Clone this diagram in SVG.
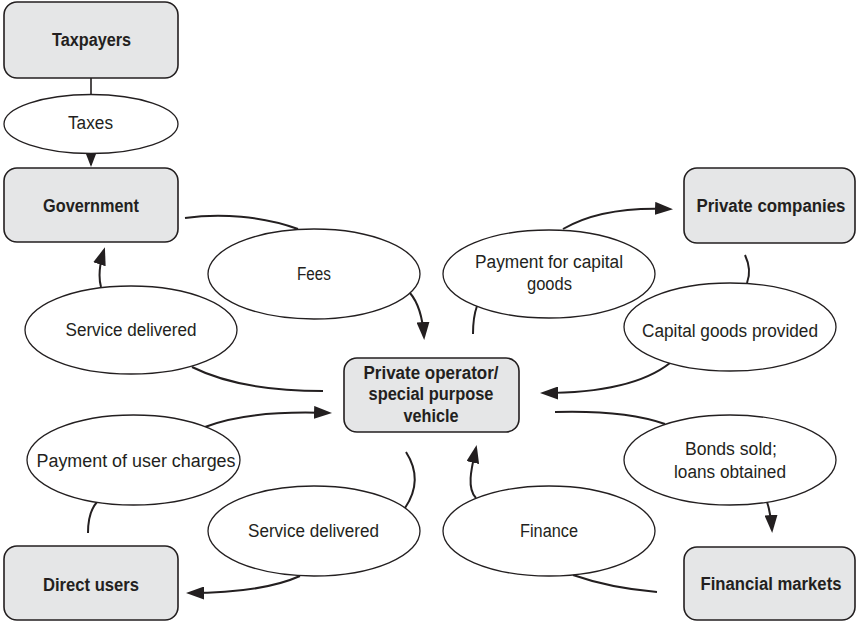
<svg xmlns="http://www.w3.org/2000/svg" width="857" height="622" viewBox="0 0 857 622">
  <style>
    .box { fill: #e5e6e7; stroke: #231f20; stroke-width: 1.6; }
    .oval { fill: #ffffff; stroke: #231f20; stroke-width: 1.3; }
    .flow { fill: none; stroke: #231f20; stroke-width: 2; }
    .thin { fill: none; stroke: #231f20; stroke-width: 1.6; }
    .bold { font-family: "Liberation Sans", Arial, sans-serif; font-weight: bold; font-size: 18px; fill: #231f20; text-anchor: middle; }
    .lbl { font-family: "Liberation Sans", Arial, sans-serif; font-size: 18px; fill: #231f20; text-anchor: middle; }
  </style>
  <defs>
    <marker id="head" markerUnits="userSpaceOnUse" viewBox="0 0 18 13" markerWidth="18" markerHeight="13" refX="15" refY="6.5" orient="auto">
      <path d="M0,0 L18,6.5 L0,13 z" fill="#231f20"/>
    </marker>
    <marker id="headSmall" markerUnits="userSpaceOnUse" viewBox="0 0 13 10" markerWidth="13" markerHeight="10" refX="11" refY="5" orient="auto">
      <path d="M0,0 L13,5 L0,10 z" fill="#231f20"/>
    </marker>
  </defs>

  <!-- connectors -->
  <g id="connectors">
    <path class="thin" d="M91,78 L91,94"/>
    <path class="thin" d="M91,154 L91,165" marker-end="url(#headSmall)"/>
    <path class="flow" d="M185,218 C220,213 262,216 298,229"/>
    <path class="flow" d="M410,293 Q422,307 424,337" marker-end="url(#head)"/>
    <path class="flow" d="M192,367 Q240,391 323,391"/>
    <path class="flow" d="M101,287 Q97,272 104,250" marker-end="url(#head)"/>
    <path class="flow" d="M88,533 Q88,512 97,502"/>
    <path class="flow" d="M205,427 Q248,410 329,413" marker-end="url(#head)"/>
    <path class="flow" d="M406,452 Q424,480 405,508"/>
    <path class="flow" d="M300,576 Q262,593 189,593" marker-end="url(#head)"/>
    <path class="flow" d="M657,592 Q610,588 573,575"/>
    <path class="flow" d="M476,498 C466,488 472,466 476,448" marker-end="url(#head)"/>
    <path class="flow" d="M555,412 Q625,410 665,424"/>
    <path class="flow" d="M767,502 Q771,514 772,530" marker-end="url(#head)"/>
    <path class="flow" d="M473,334 Q473,317 477,306"/>
    <path class="flow" d="M563,229 Q602,206 670,209" marker-end="url(#head)"/>
    <path class="flow" d="M745,255 Q752,270 747,283"/>
    <path class="flow" d="M670,363 Q632,393 543,393" marker-end="url(#head)"/>
  </g>

  <!-- boxes -->
  <g id="taxpayers">
    <rect class="box" x="4" y="2" width="174" height="76" rx="13"/>
    <text class="bold" x="91.5" y="46" textLength="79" lengthAdjust="spacingAndGlyphs">Taxpayers</text>
  </g>
  <g id="government">
    <rect class="box" x="4" y="168" width="174" height="74" rx="13"/>
    <text class="bold" x="91" y="212" textLength="96" lengthAdjust="spacingAndGlyphs">Government</text>
  </g>
  <g id="private-operator">
    <rect class="box" x="344" y="358" width="175" height="74" rx="13"/>
    <text class="bold" x="431" y="379" textLength="135" lengthAdjust="spacingAndGlyphs">Private operator/</text>
    <text class="bold" x="431" y="400" textLength="125" lengthAdjust="spacingAndGlyphs">special purpose</text>
    <text class="bold" x="431" y="422" textLength="55" lengthAdjust="spacingAndGlyphs">vehicle</text>
  </g>
  <g id="private-companies">
    <rect class="box" x="684" y="168" width="171" height="75" rx="13"/>
    <text class="bold" x="771" y="212" textLength="149" lengthAdjust="spacingAndGlyphs">Private companies</text>
  </g>
  <g id="direct-users">
    <rect class="box" x="4" y="546" width="174" height="74" rx="13"/>
    <text class="bold" x="91" y="591" textLength="96" lengthAdjust="spacingAndGlyphs">Direct users</text>
  </g>
  <g id="financial-markets">
    <rect class="box" x="684" y="547" width="171" height="73" rx="13"/>
    <text class="bold" x="771" y="590" textLength="141" lengthAdjust="spacingAndGlyphs">Financial markets</text>
  </g>

  <!-- flow labels -->
  <g id="taxes">
    <ellipse class="oval" cx="91" cy="124" rx="87" ry="29.5"/>
    <text class="lbl" x="90.5" y="129" textLength="45" lengthAdjust="spacingAndGlyphs">Taxes</text>
  </g>
  <g id="fees">
    <ellipse class="oval" cx="314" cy="274" rx="106" ry="45"/>
    <text class="lbl" x="314" y="280" textLength="34" lengthAdjust="spacingAndGlyphs">Fees</text>
  </g>
  <g id="service-to-government">
    <ellipse class="oval" cx="131" cy="330" rx="106" ry="44"/>
    <text class="lbl" x="131" y="336" textLength="131" lengthAdjust="spacingAndGlyphs">Service delivered</text>
  </g>
  <g id="user-charges">
    <ellipse class="oval" cx="133.5" cy="460" rx="106.5" ry="45"/>
    <text class="lbl" x="136" y="467" textLength="199" lengthAdjust="spacingAndGlyphs">Payment of user charges</text>
  </g>
  <g id="service-to-users">
    <ellipse class="oval" cx="314" cy="531" rx="106" ry="45"/>
    <text class="lbl" x="313.5" y="537" textLength="131" lengthAdjust="spacingAndGlyphs">Service delivered</text>
  </g>
  <g id="finance">
    <ellipse class="oval" cx="549" cy="531" rx="106" ry="45"/>
    <text class="lbl" x="549" y="537" textLength="58" lengthAdjust="spacingAndGlyphs">Finance</text>
  </g>
  <g id="capital-payment">
    <ellipse class="oval" cx="549" cy="274" rx="106" ry="44"/>
    <text class="lbl" x="549" y="268" textLength="148" lengthAdjust="spacingAndGlyphs">Payment for capital</text>
    <text class="lbl" x="549.5" y="290" textLength="45" lengthAdjust="spacingAndGlyphs">goods</text>
  </g>
  <g id="capital-goods">
    <ellipse class="oval" cx="730" cy="327" rx="106" ry="44"/>
    <text class="lbl" x="730" y="337" textLength="176" lengthAdjust="spacingAndGlyphs">Capital goods provided</text>
  </g>
  <g id="bonds-loans">
    <ellipse class="oval" cx="730" cy="460" rx="106" ry="45"/>
    <text class="lbl" x="731" y="455" textLength="92" lengthAdjust="spacingAndGlyphs">Bonds sold;</text>
    <text class="lbl" x="730" y="478" textLength="112" lengthAdjust="spacingAndGlyphs">loans obtained</text>
  </g>
</svg>
